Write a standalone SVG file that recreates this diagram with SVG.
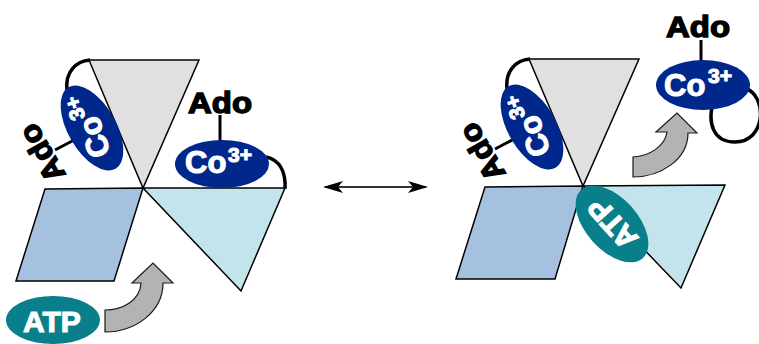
<svg xmlns="http://www.w3.org/2000/svg" width="759" height="344" viewBox="0 0 759 344">
  <style>
    .sub { stroke: #000; stroke-width: 1.5; stroke-linejoin: miter; }
    .gray { fill: #e0e0e0; }
    .blue { fill: #a6c1df; }
    .cyan { fill: #c3e4ec; }
    .co { fill: #00288c; }
    .atp { fill: #0a7f8c; }
    .bond { fill: none; stroke: #000; stroke-width: 3.5; stroke-linecap: butt; }
    .tie { stroke: #000; stroke-width: 3; }
    .w { fill: #fff; stroke: #fff; stroke-width: 1.1; font-family: "Liberation Sans", Arial, sans-serif; font-weight: bold; }
    .k { fill: #000; stroke: #000; stroke-width: 1.4; font-family: "Liberation Sans", Arial, sans-serif; font-weight: bold; }
    .flow { fill: #b3b3b3; stroke: #1a1a1a; stroke-width: 1.2; stroke-linejoin: miter; }
  </style>
  <defs>
    <marker id="head" viewBox="0 0 20 12" refX="18" refY="6" markerWidth="20" markerHeight="12" markerUnits="userSpaceOnUse" orient="auto-start-reverse">
      <path d="M0,0 L20,6 L0,12 L5,6 Z" fill="#000"/>
    </marker>
    <!-- tilted cobalt ellipse with its tethered Ado label, shared by both states -->
    <g id="co-tilted">
      <path class="bond" d="M67,90 C65,72 76,61 90,60"/>
      <line class="tie" x1="55" y1="150" x2="76" y2="139"/>
      <ellipse class="co" cx="92" cy="128" rx="47" ry="24" transform="rotate(-120 92 128)"/>
      <g transform="translate(92,128) rotate(-108)">
        <text class="w" x="-30" y="10" font-size="31">Co</text>
        <text class="w" x="12" y="-3" font-size="21">3+</text>
      </g>
      <g transform="translate(42,153) rotate(-120)">
        <text class="k" x="0" y="10" font-size="30" text-anchor="middle" textLength="62" lengthAdjust="spacingAndGlyphs">Ado</text>
      </g>
    </g>
  </defs>

  <!-- left state: enzyme subunits -->
  <g id="left-subunit-gray">
    <polygon class="sub gray" points="89,60 199,60 143,188"/>
  </g>
  <g id="left-subunit-blue">
    <polygon class="sub blue" points="45,189 143,188 114,281 16,281"/>
  </g>
  <g id="left-subunit-cyan">
    <polygon class="sub cyan" points="143,188 285,188 241,291"/>
  </g>
  <g id="left-cobalamin-a">
    <use href="#co-tilted"/>
  </g>
  <g id="left-cobalamin-b">
    <path class="bond" d="M266,157 C280,160 286,172 285,189"/>
    <line class="tie" x1="220" y1="115" x2="220" y2="142"/>
    <ellipse class="co" cx="222" cy="164" rx="47" ry="24"/>
    <text class="w" x="185" y="173" font-size="31">Co</text>
    <text class="w" x="228" y="162" font-size="21">3+</text>
    <text class="k" x="188" y="113" font-size="30" textLength="64" lengthAdjust="spacingAndGlyphs">Ado</text>
  </g>
  <g id="left-atp">
    <ellipse class="atp" cx="53" cy="320" rx="47" ry="24"/>
    <text class="w" x="52" y="332" font-size="30" text-anchor="middle">ATP</text>
  </g>

  <!-- right state: enzyme subunits -->
  <g id="right-subunit-gray">
    <polygon class="sub gray" points="529,59 639,59 583,186"/>
  </g>
  <g id="right-subunit-blue">
    <polygon class="sub blue" points="485,187 583,186 555,279 456,279"/>
  </g>
  <g id="right-subunit-cyan">
    <polygon class="sub cyan" points="583,186 725,185 681,288"/>
  </g>
  <g id="right-cobalamin-a">
    <use href="#co-tilted" transform="translate(440,-1)"/>
  </g>
  <g id="right-atp">
    <ellipse class="atp" cx="612" cy="224" rx="46" ry="26" transform="rotate(48 612 224)"/>
    <g transform="translate(612,224) rotate(228)">
      <text class="w" x="0" y="11" font-size="30" text-anchor="middle">ATP</text>
    </g>
  </g>
  <g id="right-cobalamin-b">
    <path class="bond" d="M745,88 C768,96 766,142 735,142 C712,142 709,122 712,107"/>
    <line class="tie" x1="701" y1="40" x2="701" y2="65"/>
    <ellipse class="co" cx="703" cy="85" rx="47" ry="25"/>
    <text class="w" x="664" y="96" font-size="31">Co</text>
    <text class="w" x="708" y="83" font-size="21">3+</text>
    <text class="k" x="666" y="37" font-size="30" textLength="64" lengthAdjust="spacingAndGlyphs">Ado</text>
  </g>

  <!-- connectors -->
  <g id="connectors">
    <line x1="325" y1="187" x2="426" y2="187" stroke="#333" stroke-width="2" marker-start="url(#head)" marker-end="url(#head)"/>
    <path class="flow" d="M105,310 C122,310 140,301 141,283 L132,283 L153,263 L173,283 L163,283 C163,312 135,332 105,332 Z"/>
    <path class="flow" d="M633,157 C650,156 665,146 667,132 L656,132 L677,113 L697,133 L688,133 C688,160 660,177 633,177 Z"/>
  </g>
</svg>
